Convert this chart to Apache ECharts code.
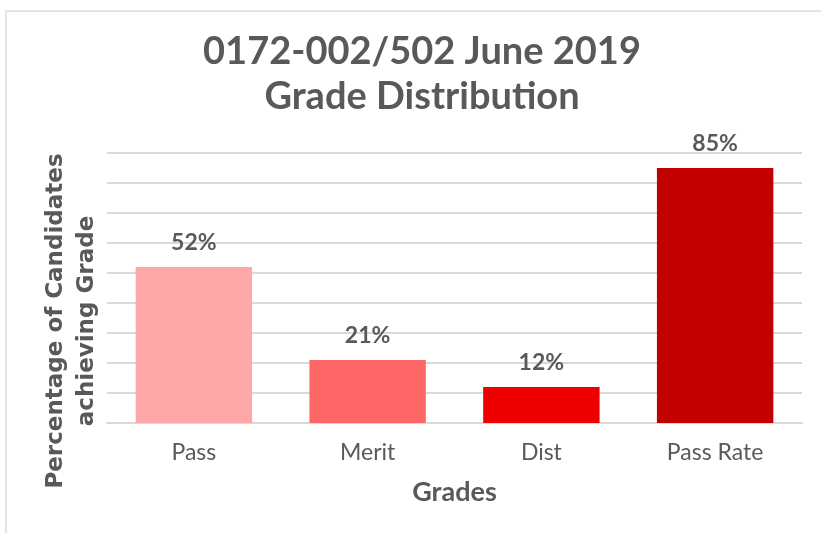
<!DOCTYPE html>
<html>
<head>
<meta charset="utf-8">
<script src="https://cdn.jsdelivr.net/npm/echarts@6/dist/echarts.min.js"></script>
<style>
  html, body { margin: 0; padding: 0; background: #fff; }
  #chart { width: 821px; height: 533px; }
</style>
</head>
<body>
<div id="chart"></div>
<script>
// chart data
const categories = ['Pass', 'Merit', 'Dist', 'Pass Rate']
const percentages = [52, 21, 12, 85]
const barColors = ['#FFA8AA', '#FF6767', '#EC0000', '#C30000']

const titleLines = ['0172-002/502 June 2019', 'Grade Distribution']
const yAxisTitle = 'Percentage of Candidates\nachieving Grade'
const xAxisTitle = 'Grades'

const textColor = '#595959'
const gridColor = '#d9d9d9'
const font = 'Lato'

const chart = echarts.init(document.getElementById('chart'))

chart.setOption({
  backgroundColor: '#fff',
  animation: false,
  title: {
    text: titleLines.join('\n'),
    left: 417,
    textAlign: 'center',
    top: 24,
    textStyle: {
      fontFamily: font,
      fontSize: 38,
      fontWeight: 'bold',
      color: textColor,
      lineHeight: 45,
    },
  },
  graphic: [
    {
      type: 'rect',
      shape: { x: 6, y: 11, width: 830, height: 540 },
      style: { fill: 'none', stroke: '#dcdcdc', lineWidth: 1.5 },
      silent: true,
    },
  ],
  grid: { left: 107, right: 19, top: 153, bottom: 110 },
  xAxis: {
    type: 'category',
    data: categories,
    name: xAxisTitle,
    nameLocation: 'middle',
    nameGap: 56,
    nameTextStyle: { fontFamily: font, fontSize: 27, fontWeight: 'bold', color: textColor },
    axisLine: { lineStyle: { color: gridColor, width: 2 } },
    axisTick: { show: false },
    axisLabel: { fontFamily: font, fontSize: 23, color: textColor, margin: 18 },
  },
  yAxis: {
    type: 'value',
    min: 0,
    max: 90,
    interval: 10,
    name: yAxisTitle,
    nameLocation: 'middle',
    nameGap: 4,
    nameTextStyle: {
      fontFamily: 'DejaVu Sans',
      fontSize: 23,
      fontWeight: 'bold',
      color: textColor,
      lineHeight: 31,
      align: 'center',
      padding: [0, 66, 0, 0],
    },
    axisLine: { show: false },
    axisTick: { show: false },
    axisLabel: { show: false },
    splitLine: { lineStyle: { color: gridColor, width: 2 } },
  },
  series: [
    {
      type: 'bar',
      barWidth: '67%',
      data: percentages.map((v, i) => ({ value: v, itemStyle: { color: barColors[i] } })),
      label: {
        show: true,
        position: 'top',
        distance: 13,
        formatter: '{c}%',
        fontFamily: font,
        fontSize: 23,
        fontWeight: 'bold',
        color: textColor,
      },
    },
  ],
})
</script>
</body>
</html>
